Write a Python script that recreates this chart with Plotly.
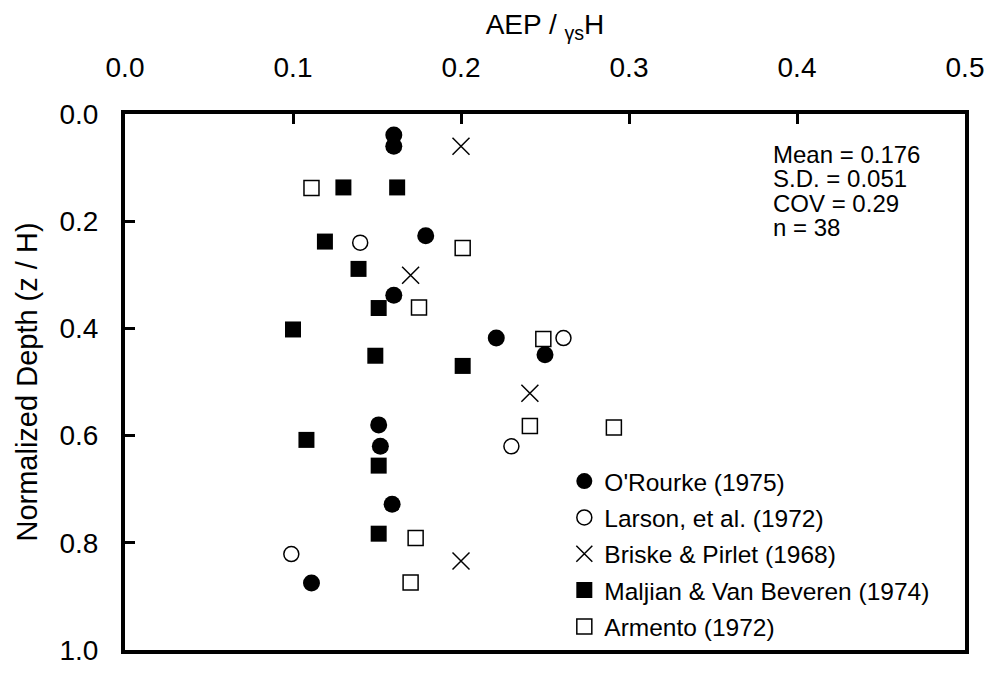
import plotly.graph_objects as go

# ---- data (AEP / gamma_s H  vs  normalized depth z/H) ----
orourke_x = [0.160, 0.160, 0.179, 0.160, 0.221, 0.250, 0.151, 0.152, 0.159, 0.111]
orourke_z = [0.039, 0.060, 0.227, 0.338, 0.418, 0.449, 0.580, 0.620, 0.728, 0.875]

larson_x = [0.140, 0.261, 0.230, 0.099]
larson_z = [0.240, 0.418, 0.620, 0.821]

briske_x = [0.200, 0.170, 0.241, 0.200]
briske_z = [0.060, 0.301, 0.521, 0.834]

maljian_x = [0.130, 0.162, 0.119, 0.139, 0.151, 0.100, 0.149, 0.201, 0.108, 0.151, 0.151]
maljian_z = [0.137, 0.137, 0.238, 0.289, 0.362, 0.402, 0.451, 0.470, 0.608, 0.656, 0.783]

armento_x = [0.111, 0.201, 0.175, 0.249, 0.241, 0.291, 0.173, 0.170]
armento_z = [0.138, 0.250, 0.361, 0.420, 0.582, 0.585, 0.791, 0.874]

series_names = ["O'Rourke (1975)", "Larson, et al. (1972)", "Briske & Pirlet (1968)",
                "Maljian & Van Beveren (1974)", "Armento (1972)"]

stats_lines = ["Mean = 0.176", "S.D. = 0.051", "COV = 0.29", "n = 38"]

x_ticks = [0.0, 0.1, 0.2, 0.3, 0.4, 0.5]
y_ticks = [0.0, 0.2, 0.4, 0.6, 0.8, 1.0]

FONT = "Liberation Sans, Arial, sans-serif"

fig = go.Figure()

def add(xs, zs, name, symbol, size, lw):
    fig.add_trace(go.Scatter(
        x=xs, y=zs, mode="markers", name=name, legendgroup=name,
        marker=dict(symbol=symbol, size=size, color="black",
                    line=dict(color="black", width=lw)),
    ))

add(orourke_x, orourke_z, series_names[0], "circle", 17, 0)
add(larson_x, larson_z, series_names[1], "circle-open", 15, 1.5)
add(briske_x, briske_z, series_names[2], "x-thin-open", 17, 1.5)
add(maljian_x, maljian_z, series_names[3], "square", 16, 0)
add(armento_x, armento_z, series_names[4], "square-open", 15, 1.5)

axis_common = dict(
    showline=True, linewidth=4, linecolor="black", mirror=True,
    ticks="inside", ticklen=10, tickwidth=3, tickcolor="black",
    showgrid=False, zeroline=False, tickformat=".1f",
    tickfont=dict(family=FONT, size=28, color="black"),
)

fig.update_layout(
    width=996, height=678,
    margin=dict(l=125, r=28, t=114, b=21),
    paper_bgcolor="white", plot_bgcolor="white",
    font=dict(family=FONT, color="black"),
    xaxis=dict(
        side="top", range=[0, 0.5], tickvals=x_ticks,
        title=dict(text="AEP / <sub>γs</sub>H", font=dict(family=FONT, size=28), standoff=10),
        ticklabelstandoff=22,
        **axis_common,
    ),
    yaxis=dict(
        range=[1.0, 0.0], tickvals=y_ticks,
        title=dict(text="Normalized Depth (z / H)", font=dict(family=FONT, size=29), standoff=14),
        ticklabelstandoff=17,
        **axis_common,
    ),
    legend=dict(
        x=0.523, y=0.357, xanchor="left", yanchor="top",
        font=dict(family=FONT, size=24.5, color="black"),
        bgcolor="rgba(0,0,0,0)", borderwidth=0,
        itemwidth=30, tracegroupgap=1.5,
    ),
    showlegend=True,
)

for i, line in enumerate(stats_lines):
    fig.add_annotation(
        xref="paper", yref="paper", x=0.7687, y=0.9245 - i * 0.0455,
        xanchor="left", yanchor="middle", showarrow=False,
        text=line, font=dict(family=FONT, size=24, color="black"),
    )

fig.write_html("out.html")
